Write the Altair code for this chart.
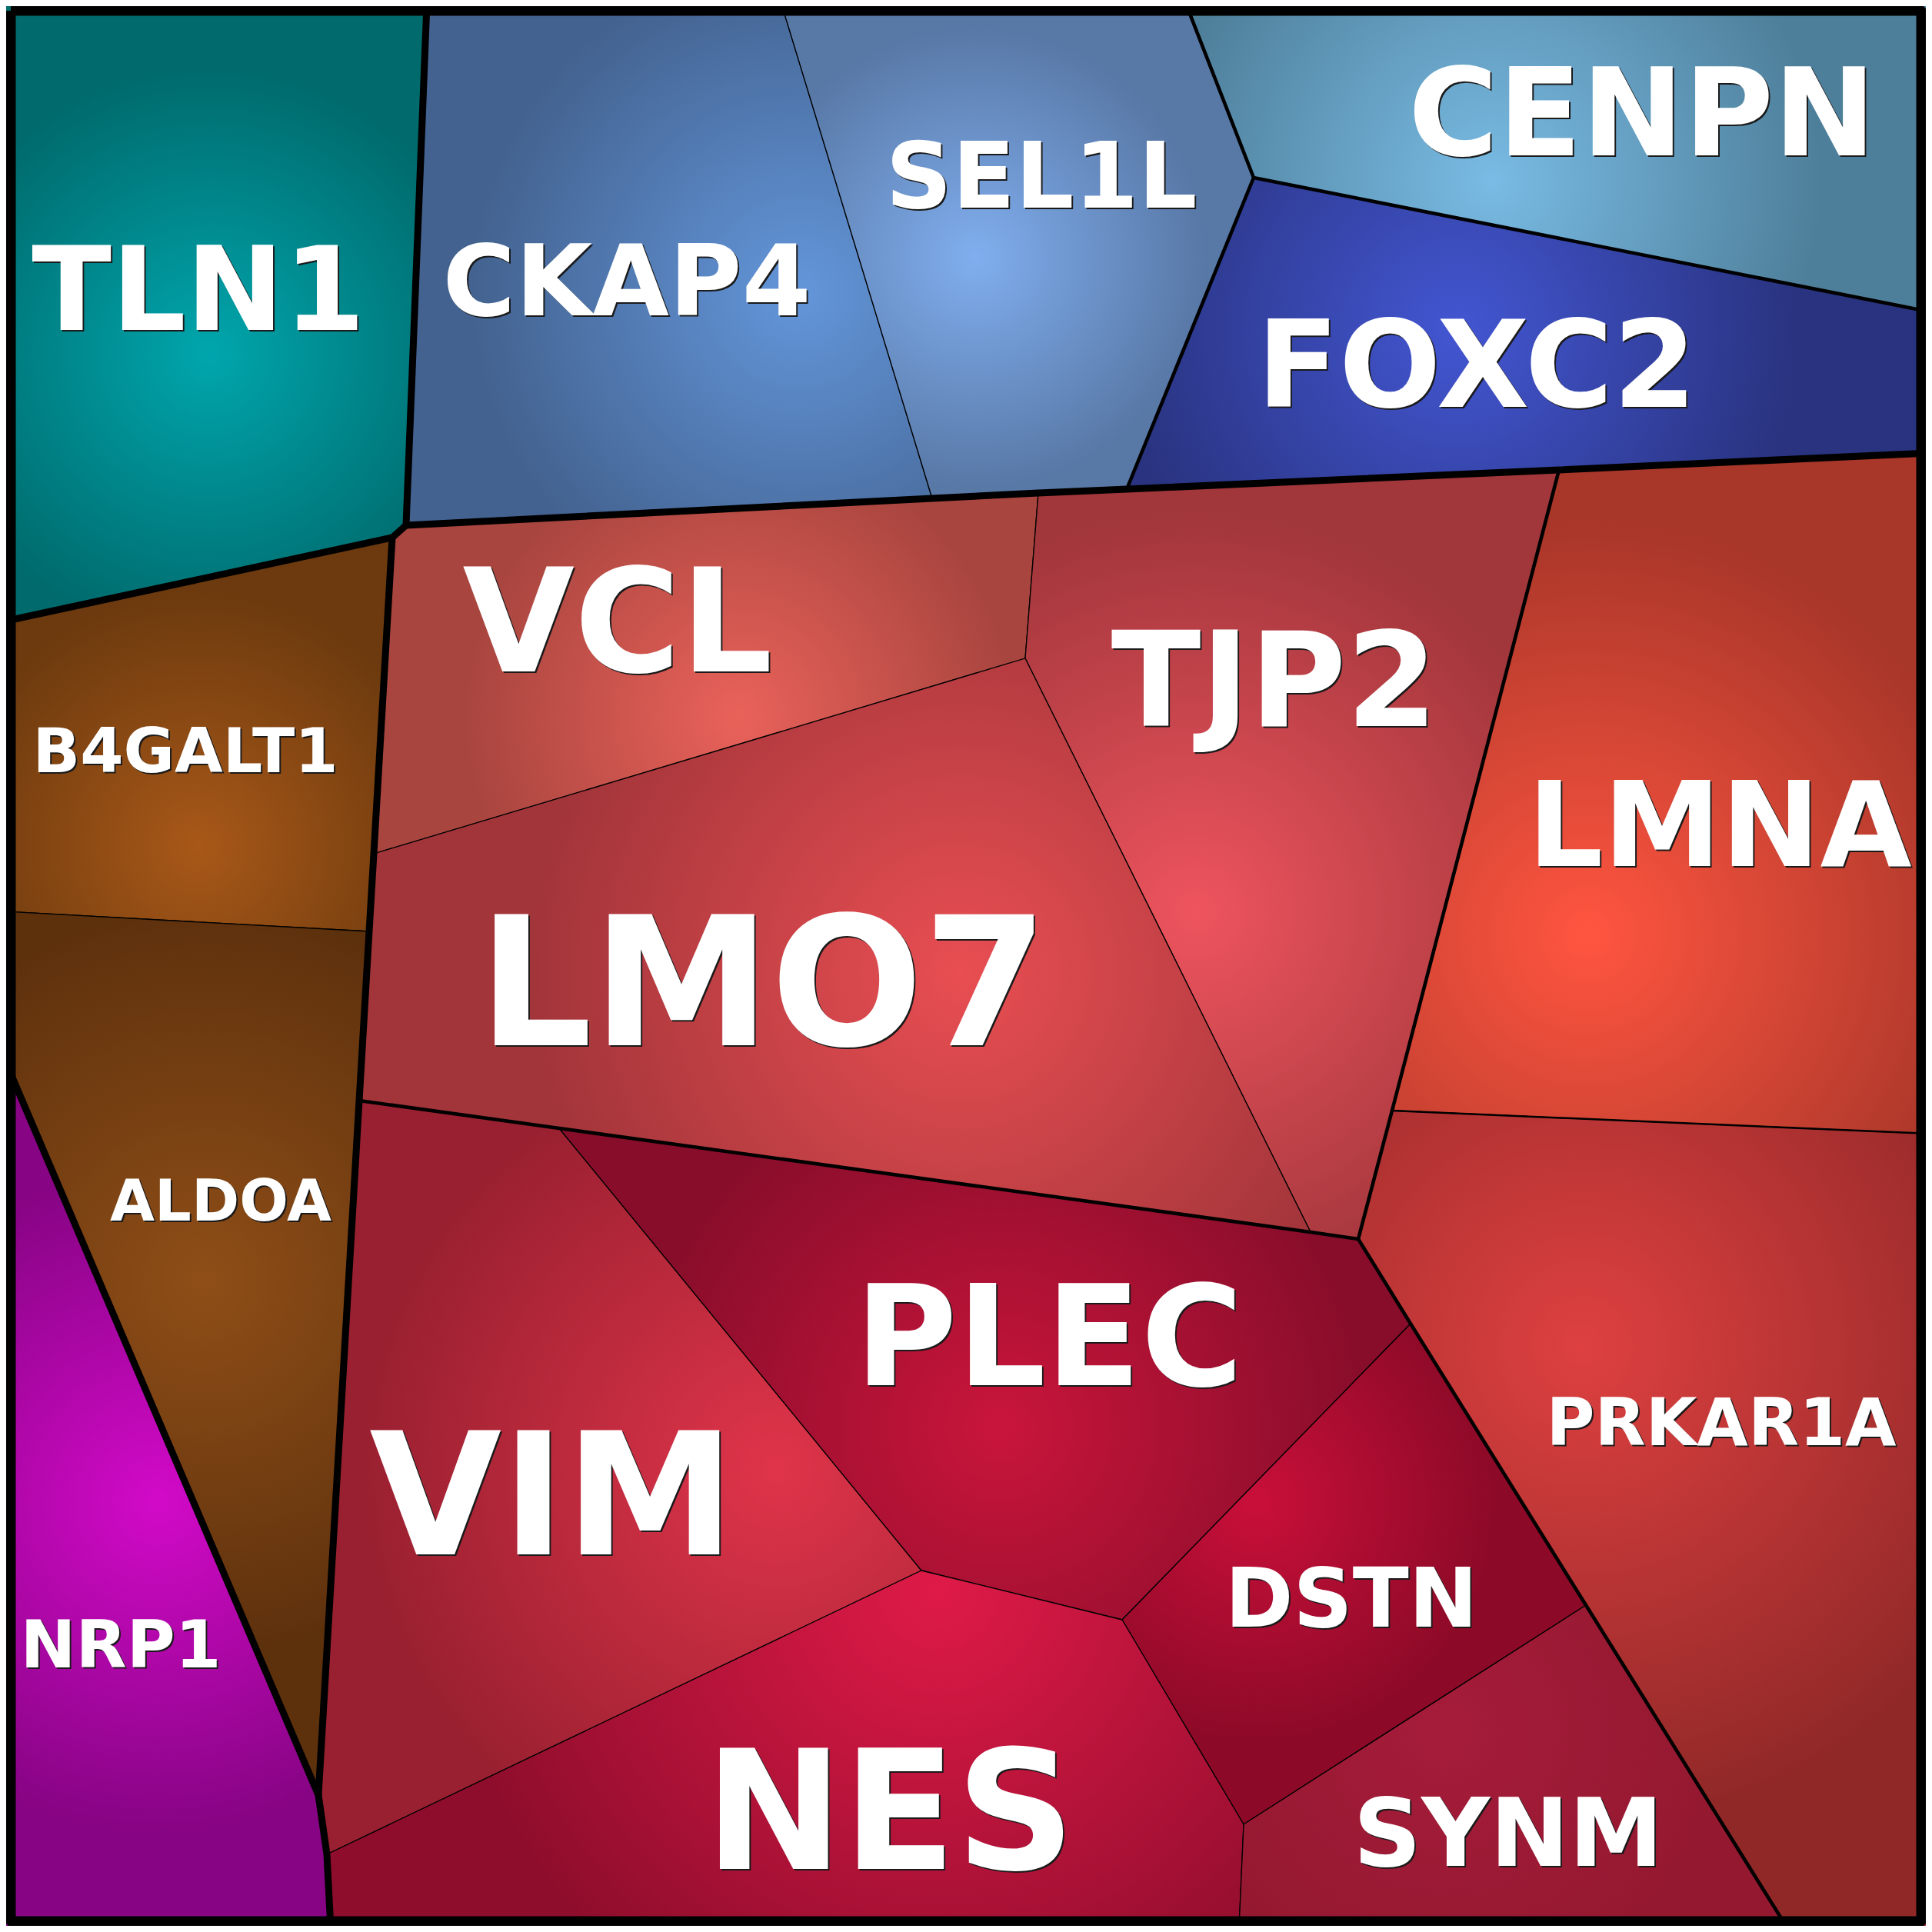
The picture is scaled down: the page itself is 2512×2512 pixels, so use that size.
import math
import altair as alt
import pandas as pd

# ---------------- data (reference pixel coordinates) ----------------
vertex_names = ["TL", "TR", "BR", "BL", "A", "B", "C", "D", "E", "F", "G", "H", "I", "J",
                "K", "L", "M", "N", "O", "P", "Q", "R", "S", "T", "U", "V", "W", "X",
                "Y", "Z", "AA", "BB", "CC", "DD", "EE", "FF", "GG", "HH"]
vertex_x = [5, 2507, 2507, 5, 555, 1016, 1542, 1630, 2507, 1465, 1212, 528, 510, 5,
            1350, 2027, 2507, 1333, 486, 480, 5, 467, 727, 1704, 1766, 1810, 2507, 5,
            414, 430, 425, 1198, 1459, 1834, 2062, 1617, 1611, 2324]
vertex_y = [5, 5, 2507, 2507, 5, 5, 5, 231, 405, 636, 648, 683, 699, 808,
            641, 611, 589, 856, 1110, 1211, 1185, 1431, 1467, 1602, 1611, 1444, 1474, 1375,
            2334, 2507, 2411, 2042, 2106, 1721, 2087, 2372, 2507, 2507]

cell_names = ["TLN1", "CKAP4", "SEL1L", "CENPN", "FOXC2", "VCL", "TJP2", "LMNA",
              "B4GALT1", "LMO7", "ALDOA", "NRP1", "VIM", "PLEC", "PRKAR1A", "DSTN",
              "NES", "SYNM"]
cell_vertices = [
    ["TL", "A", "H", "I", "J"],
    ["A", "B", "G", "H"],
    ["B", "C", "D", "F", "G"],
    ["C", "TR", "E", "D"],
    ["D", "E", "M", "L", "F"],
    ["H", "G", "K", "N", "O", "I"],
    ["K", "F", "L", "V", "U", "T", "N"],
    ["L", "M", "W", "V"],
    ["J", "I", "O", "P", "Q"],
    ["O", "N", "T", "S", "R", "P"],
    ["Q", "P", "R", "Y", "X"],
    ["X", "Y", "AA", "Z", "BL"],
    ["R", "S", "BB", "AA", "Y"],
    ["S", "T", "U", "DD", "CC", "BB"],
    ["V", "W", "BR", "HH", "EE", "DD", "U"],
    ["DD", "EE", "FF", "CC"],
    ["AA", "BB", "CC", "FF", "GG", "Z"],
    ["FF", "EE", "HH", "GG"],
]
cell_center_x = [272, 1040, 1268, 1940, 1895, 960, 1555, 2065,
                 258, 1250, 265, 205, 1010, 1300, 2058, 1633, 1220, 1880]
cell_center_y = [460, 380, 335, 235, 430, 932, 1185, 1215,
                 1100, 1265, 1665, 1952, 1910, 1855, 1750, 1953, 2065, 2250]
cell_inner_color = ["#00A6AD", "#6396DA", "#80AEEE", "#79BBE4", "#4356D2", "#E9625A",
                    "#EE545E", "#FF5540", "#A85818", "#E84E52", "#8F4E17", "#D20AC8",
                    "#E0344A", "#C9153B", "#DE4040", "#C90F3A", "#DF1A48", "#A51C3A"]
cell_outer_color = ["#006A6C", "#43628F", "#5878A6", "#4E7F9A", "#29337F", "#A9453F",
                    "#A1363B", "#A83629", "#6C3A0E", "#A2353A", "#5E310D", "#870484",
                    "#992030", "#870D2A", "#912828", "#8C0A27", "#8F0D2C", "#941830"]

label_text = ["TLN1", "CKAP4", "SEL1L", "CENPN", "FOXC2", "VCL", "TJP2", "LMNA",
              "B4GALT1", "LMO7", "ALDOA", "NRP1", "VIM", "PLEC", "PRKAR1A", "DSTN",
              "NES", "SYNM"]
label_x = [258, 815, 1354, 2135, 1920, 803, 1657, 2236,
           241, 992, 287, 157, 718, 1364, 2238, 1757, 1157, 1961]
label_y = [429, 410, 270, 202, 529, 873, 944, 1126,
           1004, 1359, 1587, 2168, 2021, 1801, 1879, 2115, 2430, 2426]
label_size = [152, 129, 120, 159, 156, 188, 171, 154,
              81, 233, 75, 86, 222, 181, 86, 107, 215, 123]

thick_paths = [["A", "H"], ["H", "I", "J"], ["H", "G", "K", "F", "L", "M"],
               ["I", "O", "P", "R", "Y"], ["X", "Y"], ["Y", "AA", "Z"]]
medium_paths = [["C", "D", "E"], ["D", "F"], ["L", "V", "U"], ["R", "S", "T", "U"],
                ["U", "DD", "EE", "HH"]]
semi_paths = [["V", "W"]]
frame_x = [14, 2498, 2498, 14, 14]
frame_y = [14, 14, 2498, 2498, 14]

# ---------------- chart ----------------
vx = dict(zip(vertex_names, vertex_x))
vy = dict(zip(vertex_names, vertex_y))

XS = alt.Scale(domain=[8, 2504], nice=False, zero=False)
YS = alt.Scale(domain=[8, 2504], nice=False, zero=False, reverse=True)
X = alt.X("x:Q", scale=XS, axis=None)
Y = alt.Y("y:Q", scale=YS, axis=None)

layers = []
for i, name in enumerate(cell_names):
    verts = cell_vertices[i] + [cell_vertices[i][0]]
    xs = [vx[v] for v in verts]
    ys = [vy[v] for v in verts]
    df = pd.DataFrame({"x": xs, "y": ys, "i": list(range(len(verts)))})
    xmin, xmax, ymin, ymax = min(xs), max(xs), min(ys), max(ys)
    w, h = xmax - xmin, ymax - ymin
    s = max(w, h)
    x0 = xmin + (w - s) / 2.0
    y0 = ymin + (h - s) / 2.0
    cx, cy = cell_center_x[i], cell_center_y[i]
    fx, fy = (cx - x0) / s, (cy - y0) / s
    R = max(math.hypot(a - cx, b - cy) for a, b in zip(xs, ys)) * 0.7
    grad = {
        "gradient": "radial",
        "x1": fx, "y1": fy, "r1": 0,
        "x2": fx, "y2": fy, "r2": R / s,
        "stops": [
            {"offset": 0, "color": cell_inner_color[i]},
            {"offset": 1, "color": cell_outer_color[i]},
        ],
    }
    layers.append(
        alt.Chart(df).mark_line(fill=grad, stroke="black", strokeWidth=1.3,
                                strokeJoin="round")
        .encode(x=X, y=Y, order=alt.Order("i:Q"))
    )


def paths_df(paths):
    rows = []
    for sidx, p in enumerate(paths):
        for k, v in enumerate(p):
            rows.append({"seg": sidx, "i": k, "x": vx[v], "y": vy[v]})
    return pd.DataFrame(rows)


for paths, width in [(semi_paths, 2.5), (medium_paths, 4.6), (thick_paths, 9.0)]:
    layers.append(
        alt.Chart(paths_df(paths)).mark_line(color="black", strokeWidth=width,
                                             strokeJoin="round", strokeCap="round")
        .encode(x=X, y=Y, detail="seg:N", order=alt.Order("i:Q"))
    )

frame_df = pd.DataFrame({"x": frame_x, "y": frame_y, "i": list(range(len(frame_x)))})
layers.append(
    alt.Chart(frame_df).mark_line(color="black", strokeWidth=13, strokeJoin="round")
    .encode(x=X, y=Y, order=alt.Order("i:Q"))
)

labels = pd.DataFrame({"label": label_text, "x": label_x, "y": label_y, "size": label_size})
text_base = alt.Chart(labels).encode(
    x=X, y=Y, text="label:N", size=alt.Size("size:Q", scale=None, legend=None)
)
layers.append(
    text_base.mark_text(align="center", baseline="alphabetic", font="DejaVu Sans",
                        fontWeight="bold", color="#1a1a1a", dx=2, dy=2)
)
layers.append(
    text_base.mark_text(align="center", baseline="alphabetic", font="DejaVu Sans",
                        fontWeight="bold", color="white")
)

chart = alt.layer(*layers).properties(
    width=2496, height=2496, padding=0,
    autosize=alt.AutoSizeParams(type="none"),
).configure_view(stroke=None)

chart.save("out.html", embed_options={"renderer": "svg", "actions": False})
